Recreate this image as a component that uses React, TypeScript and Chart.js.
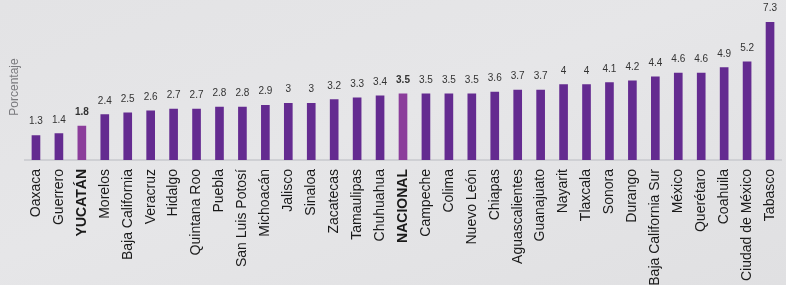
import React, { useEffect, useRef } from "react";
import { Chart, registerables } from "chart.js";

Chart.register(...registerables);

const categories = [
  "Oaxaca", "Guerrero", "YUCATÁN", "Morelos", "Baja California", "Veracruz", "Hidalgo",
  "Quintana Roo", "Puebla", "San Luis Potosí", "Michoacán", "Jalisco", "Sinaloa",
  "Zacatecas", "Tamaulipas", "Chuhuahua", "NACIONAL", "Campeche", "Colima", "Nuevo León",
  "Chiapas", "Aguascalientes", "Guanajuato", "Nayarit", "Tlaxcala", "Sonora", "Durango",
  "Baja California Sur", "México", "Querétaro", "Coahuila", "Ciudad de México", "Tabasco",
];

const values = [
  1.3, 1.4, 1.8, 2.4, 2.5, 2.6, 2.7, 2.7, 2.8, 2.8, 2.9, 3, 3, 3.2, 3.3, 3.4, 3.5, 3.5,
  3.5, 3.5, 3.6, 3.7, 3.7, 4, 4, 4.1, 4.2, 4.4, 4.6, 4.6, 4.9, 5.2, 7.3,
];

const highlighted = ["YUCATÁN", "NACIONAL"];

const yTitle = "Porcentaje";

const BAR = "#642b90";
const HILITE = "#8b3d9b";

export default function App() {
  const ref = useRef<HTMLCanvasElement | null>(null);

  useEffect(() => {
    if (!ref.current) return;
    const isHi = (i: number) => highlighted.includes(categories[i]);

    const labelsPlugin = {
      id: "valueLabels",
      afterDatasetsDraw(chart: any) {
        const ctx = chart.ctx;
        const meta = chart.getDatasetMeta(0);
        ctx.save();
        ctx.textAlign = "center";
        ctx.textBaseline = "alphabetic";
        meta.data.forEach((bar: any, i: number) => {
          ctx.fillStyle = "#333333";
          ctx.font = (isHi(i) ? "bold " : "") + "10px 'Liberation Sans', Arial, sans-serif";
          ctx.fillText(String(values[i]), bar.x, bar.y - 11);
        });
        ctx.translate(15, 87);
        ctx.rotate(-Math.PI / 2);
        ctx.fillStyle = "#7a7a7e";
        ctx.font = "12px 'Liberation Sans', Arial, sans-serif";
        ctx.textBaseline = "middle";
        ctx.fillText(yTitle, 0, 0);
        ctx.restore();
      },
    };

    const chart = new Chart(ref.current, {
      type: "bar",
      data: {
        labels: categories,
        datasets: [
          {
            data: values,
            backgroundColor: categories.map((c) => (highlighted.includes(c) ? HILITE : BAR)),
            barThickness: 8,
            borderWidth: 0,
          },
        ],
      },
      options: {
        animation: false,
        responsive: false,
        maintainAspectRatio: false,
        layout: { padding: { left: 24.5, right: 4.5, top: 9, bottom: 0 } },
        plugins: { legend: { display: false }, tooltip: { enabled: false } },
        scales: {
          x: {
            grid: { display: false, drawTicks: false },
            border: { display: true, color: "#cfd0d4", width: 2 },
            ticks: {
              minRotation: 90,
              maxRotation: 90,
              autoSkip: false,
              padding: 9,
              color: "#1a1a1a",
              font: (c: any) => ({
                family: "'Liberation Sans', Arial, sans-serif",
                size: 14,
                weight: highlighted.includes(categories[c.index]) ? "bold" : "normal",
              }),
            },
            afterFit: (scale: any) => {
              scale.height = 125;
              scale.paddingLeft = 0;
              scale.paddingRight = 0;
            },
          },
          y: {
            display: false,
            min: 0,
            max: 8,
          },
        },
      },
      plugins: [labelsPlugin],
    });
    return () => chart.destroy();
  }, []);

  return (
    <div
      style={{
        position: "fixed",
        left: 0,
        top: 0,
        width: 786,
        height: 285,
        background: "linear-gradient(160deg, #e3e3e5 0%, #e6e6e8 45%, #e0e0e2 100%)",
        overflow: "hidden",
      }}
    >
      <canvas ref={ref} width={786} height={285} style={{ display: "block" }} />
    </div>
  );
}
